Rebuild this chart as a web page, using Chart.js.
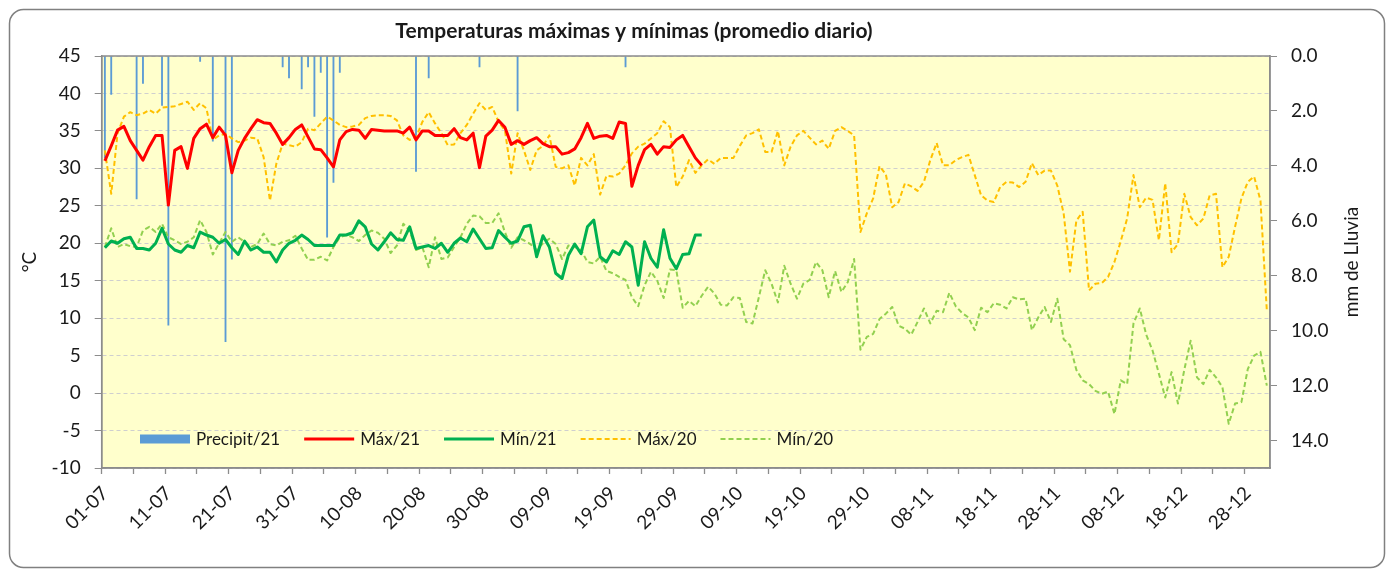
<!DOCTYPE html>
<html>
<head>
<meta charset="utf-8">
<title>Temperaturas máximas y mínimas</title>
<script src="https://cdn.jsdelivr.net/npm/chart.js@4.4.0/dist/chart.umd.min.js"></script>
<style>
  html, body { margin: 0; padding: 0; background: #fff; }
  #wrap { width: 1389px; height: 571px; position: relative; }
</style>
</head>
<body>
<div id="wrap"><canvas id="grafico"></canvas></div>
<script>
// dias del 01-07 al 31-12
var categories = [];
for (var i = 0; i < 184; i++) {
  var d = new Date(Date.UTC(2021, 6, 1 + i));
  categories.push(String(d.getUTCDate()).padStart(2, '0') + '-' + String(d.getUTCMonth() + 1).padStart(2, '0'));
}

// lluvia 2021 (mm), solo los dias con precipitacion
var precipDates = ['01-07', '02-07', '06-07', '07-07', '10-07', '11-07', '16-07', '18-07', '20-07', '21-07',
                   '29-07', '30-07', '01-08', '02-08', '03-08', '04-08', '05-08', '06-08', '07-08',
                   '19-08', '21-08', '29-08', '04-09', '21-09'];
var precipMm = [3.7, 1.4, 5.2, 1.0, 1.8, 9.8, 0.2, 3.1, 10.4, 7.4,
                0.4, 0.8, 1.2, 0.4, 2.2, 0.6, 6.6, 4.6, 0.6,
                4.2, 0.8, 0.4, 2.0, 0.4];

var max21 = [31.0, 33.0, 35.1, 35.6, 33.7, 32.4, 31.1, 32.9, 34.4, 34.4,
             25.1, 32.4, 32.9, 30.0, 34.0, 35.3, 35.9, 34.1, 35.5, 34.4,
             29.4, 32.4, 34.0, 35.3, 36.5, 36.1, 36.0, 34.7, 33.2, 34.1,
             35.2, 35.8, 34.2, 32.6, 32.5, 31.4, 30.2, 33.8, 34.9, 35.2,
             35.1, 34.0, 35.2, 35.1, 35.0, 35.0, 35.0, 34.7, 35.5, 33.8,
             35.0, 35.0, 34.4, 34.4, 34.4, 35.3, 34.1, 33.8, 34.7, 30.1,
             34.3, 35.1, 36.4, 35.5, 33.2, 33.7, 33.2, 33.7, 34.1, 33.3,
             32.9, 32.9, 31.9, 32.1, 32.6, 34.1, 36.0, 34.0, 34.3, 34.4,
             34.0, 36.2, 36.0, 27.6, 30.4, 32.5, 33.2, 31.9, 32.9, 32.8,
             33.8, 34.4, 32.9, 31.4, 30.4];

var min21 = [19.4, 20.3, 20.0, 20.6, 20.8, 19.3, 19.3, 19.1, 20.0, 22.0,
             19.9, 19.1, 18.8, 19.7, 19.4, 21.5, 21.1, 20.8, 20.0, 20.5,
             19.4, 18.5, 20.3, 19.1, 19.5, 18.8, 18.8, 17.5, 19.1, 20.0,
             20.4, 21.1, 20.5, 19.7, 19.7, 19.7, 19.7, 21.1, 21.1, 21.4,
             23.0, 22.2, 19.9, 19.1, 20.2, 21.4, 20.5, 20.4, 22.2, 19.3,
             19.5, 19.7, 19.3, 20.0, 18.8, 20.0, 20.7, 20.2, 21.9, 20.6,
             19.3, 19.4, 21.7, 20.8, 20.0, 20.3, 22.2, 22.4, 18.2, 21.0,
             19.5, 16.0, 15.3, 18.4, 19.9, 18.6, 22.2, 23.1, 18.2, 17.5,
             19.0, 18.5, 20.2, 19.5, 14.4, 20.2, 18.0, 16.8, 21.8, 18.0,
             16.6, 18.5, 18.6, 21.1, 21.1];

var max20 = [32.4, 26.6, 34.7, 36.9, 37.5, 37.1, 37.3, 37.8, 37.3, 38.1,
             38.2, 38.3, 38.6, 38.9, 37.8, 38.7, 38.0, 33.8, 34.4, 34.6,
             34.0, 33.5, 33.7, 34.1, 34.0, 31.5, 25.7, 30.6, 33.3, 33.1,
             32.9, 33.5, 35.3, 35.1, 36.0, 36.9, 36.4, 35.8, 35.5, 35.6,
             35.8, 36.7, 37.0, 37.1, 37.1, 37.0, 36.4, 34.4, 33.8, 34.1,
             36.2, 37.5, 36.0, 34.7, 33.1, 33.2, 34.7, 35.8, 37.3, 38.7,
             37.8, 38.2, 36.2, 35.1, 29.3, 34.7, 32.4, 29.8, 32.4, 33.0,
             34.4, 30.2, 30.0, 30.4, 27.7, 31.4, 30.4, 31.9, 26.5, 29.0,
             28.9, 29.3, 30.4, 32.0, 32.9, 33.3, 34.0, 34.7, 36.3, 35.5,
             27.5, 28.9, 31.1, 29.4, 30.4, 31.2, 30.6, 31.4, 31.4, 31.4,
             33.0, 34.4, 34.7, 35.2, 32.2, 32.2, 35.0, 30.4, 32.9, 34.4,
             35.0, 34.1, 33.2, 33.7, 32.6, 35.0, 35.5, 35.0, 34.4, 21.5,
             24.0, 26.0, 30.3, 29.2, 24.8, 25.5, 28.0, 27.6, 27.0, 28.2,
             31.1, 33.4, 30.4, 30.4, 31.1, 31.5, 31.8, 29.1, 26.4, 25.7,
             25.5, 27.5, 28.2, 28.1, 27.5, 28.2, 30.7, 29.1, 29.7, 29.7,
             27.7, 24.0, 16.2, 23.0, 24.2, 13.7, 14.6, 14.7, 15.5, 17.5,
             20.3, 23.3, 29.1, 24.8, 26.1, 25.8, 20.4, 28.0, 18.8, 19.9,
             26.6, 23.5, 22.4, 23.3, 26.4, 26.6, 16.8, 18.2, 22.2, 26.0,
             28.2, 28.9, 25.7, 11.0];

var min20 = [19.5, 22.0, 19.5, 19.9, 19.6, 19.5, 21.7, 22.2, 21.5, 22.6,
             20.8, 20.4, 19.9, 20.2, 20.8, 23.1, 21.5, 18.5, 20.0, 21.5,
             20.2, 20.8, 20.2, 19.5, 19.9, 21.3, 19.9, 19.7, 20.2, 20.4,
             21.0, 19.3, 17.8, 17.8, 18.2, 17.7, 19.5, 20.8, 21.1, 20.8,
             20.3, 21.1, 21.7, 21.4, 20.6, 18.7, 19.7, 22.6, 21.7, 19.1,
             19.5, 16.8, 20.8, 17.9, 18.1, 19.5, 20.8, 22.6, 23.7, 23.6,
             22.7, 22.7, 24.0, 21.5, 19.4, 20.8, 20.4, 19.9, 19.1, 20.0,
             20.6, 19.9, 17.9, 19.7, 19.5, 19.1, 17.5, 17.3, 18.2, 16.3,
             16.0, 15.5, 15.1, 12.8, 11.6, 14.4, 16.2, 15.0, 12.7, 16.5,
             16.4, 11.4, 12.3, 11.6, 13.0, 14.2, 13.3, 11.8, 11.7, 12.8,
             12.7, 9.5, 9.3, 12.8, 16.4, 14.6, 12.1, 17.0, 14.6, 12.6,
             14.6, 15.1, 17.5, 16.4, 12.8, 16.3, 13.5, 14.8, 17.9, 5.8,
             7.5, 7.9, 9.9, 10.6, 11.5, 9.0, 8.6, 7.8, 9.5, 11.3,
             9.3, 11.0, 10.8, 13.4, 11.6, 10.7, 10.1, 8.4, 11.4, 10.8,
             12.0, 11.8, 11.3, 12.8, 12.5, 12.6, 8.4, 10.1, 11.5, 9.5,
             12.6, 7.2, 6.4, 3.1, 1.7, 1.2, 0.3, -0.1, 0.2, -2.8,
             1.7, 1.2, 9.3, 11.3, 7.8, 5.7, 2.6, -0.6, 2.8, -1.4,
             3.1, 7.0, 2.1, 1.2, 3.1, 2.1, 0.8, -4.1, -1.4, -1.2,
             3.2, 5.0, 5.5, 1.0];

var precip = categories.map(function (c) {
  var k = precipDates.indexOf(c);
  return k < 0 ? null : precipMm[k];
});

var textColor = '#1a1a1a';
var axisGray = '#8c8c8c';

function roundRect(ctx, x, y, w, h, r) {
  ctx.beginPath();
  ctx.moveTo(x + r, y);
  ctx.arcTo(x + w, y, x + w, y + h, r);
  ctx.arcTo(x + w, y + h, x, y + h, r);
  ctx.arcTo(x, y + h, x, y, r);
  ctx.arcTo(x, y, x + w, y, r);
  ctx.closePath();
}

var marco = {
  id: 'marco',
  beforeDraw: function (chart) {
    var ctx = chart.ctx, a = chart.chartArea;
    ctx.save();
    ctx.fillStyle = '#fff';
    ctx.fillRect(0, 0, chart.width, chart.height);
    roundRect(ctx, 9.5, 9.5, 1375, 558, 14);
    ctx.strokeStyle = '#808080';
    ctx.lineWidth = 1.5;
    ctx.stroke();
    ctx.fillStyle = '#FFFFCC';
    ctx.fillRect(a.left, a.top, a.right - a.left, a.bottom - a.top);
    ctx.restore();
  },
  afterDatasetsDraw: function (chart) {
    var ctx = chart.ctx, a = chart.chartArea;
    ctx.save();
    ctx.strokeStyle = axisGray;
    ctx.lineWidth = 1.5;
    ctx.strokeRect(a.left, a.top, a.right - a.left, a.bottom - a.top);

    // titulo
    ctx.fillStyle = textColor;
    ctx.font = 'bold 21px Lato';
    ctx.textAlign = 'center';
    ctx.textBaseline = 'middle';
    ctx.fillText('Temperaturas máximas y mínimas (promedio diario)', 634, 31);

    // titulos de ejes
    ctx.font = '19px Lato';
    var mid = (a.top + a.bottom) / 2;
    ctx.save();
    ctx.translate(30, mid);
    ctx.rotate(-Math.PI / 2);
    ctx.fillText('°C', 0, 0);
    ctx.restore();
    ctx.save();
    ctx.translate(1352, mid);
    ctx.rotate(-Math.PI / 2);
    ctx.fillText('mm de Lluvia', 0, 0);
    ctx.restore();

    // leyenda
    ctx.font = '17px Lato';
    ctx.textAlign = 'left';
    var x = 140, y = 439;
    var orden = [4, 0, 1, 2, 3];
    orden.forEach(function (k) {
      var ds = chart.data.datasets[k];
      if (ds.type === 'bar') {
        ctx.fillStyle = ds.backgroundColor;
        ctx.fillRect(x, y - 4.5, 50, 9);
      } else {
        ctx.strokeStyle = ds.borderColor;
        ctx.lineWidth = ds.borderWidth;
        ctx.setLineDash(ds.borderDash || []);
        ctx.beginPath();
        ctx.moveTo(x, y);
        ctx.lineTo(x + 50, y);
        ctx.stroke();
        ctx.setLineDash([]);
      }
      ctx.fillStyle = textColor;
      ctx.fillText(ds.label, x + 56, y + 1);
      x += 56 + ctx.measureText(ds.label).width + 24;
    });
    ctx.restore();
  }
};

var ctx = document.getElementById('grafico').getContext('2d');
var chart = new Chart(ctx, {
  type: 'line',
  data: {
    labels: categories,
    datasets: [
      { label: 'Máx/21', data: max21, borderColor: '#FF0000', borderWidth: 3, order: 0 },
      { label: 'Mín/21', data: min21, borderColor: '#00B050', borderWidth: 3, order: 0 },
      { label: 'Máx/20', data: max20, borderColor: '#FFC000', borderWidth: 2, borderDash: [5, 3], order: 1 },
      { label: 'Mín/20', data: min20, borderColor: '#92D050', borderWidth: 2, borderDash: [5, 3], order: 1 },
      { type: 'bar', label: 'Precipit/21', data: precip, yAxisID: 'y2', backgroundColor: '#5B9BD5',
        barThickness: 1.2, order: 2 }
    ]
  },
  options: {
    responsive: true,
    maintainAspectRatio: false,
    animation: false,
    layout: { padding: { left: 15, right: 10, top: 56, bottom: 13 } },
    elements: {
      point: { radius: 0 },
      line: { tension: 0, fill: false, borderJoinStyle: 'round' }
    },
    plugins: {
      legend: { display: false },
      title: { display: false },
      tooltip: { enabled: false }
    },
    scales: {
      x: {
        offset: true,
        grid: {
          drawOnChartArea: false,
          drawTicks: true,
          tickLength: 6,
          offset: true,
          tickWidth: 1.3,
          tickColor: function (c) { return c.index % 5 === 0 ? axisGray : 'rgba(0,0,0,0)'; }
        },
        border: { color: axisGray, width: 1.5 },
        ticks: {
          autoSkip: false,
          minRotation: 45,
          maxRotation: 45,
          padding: 8,
          color: textColor,
          font: { family: 'Lato', size: 19 },
          callback: function (v, i) { return i % 10 === 0 ? categories[i] : ''; }
        },
        afterFit: function (s) { s.height = 90; }
      },
      y: {
        position: 'left',
        min: -10,
        max: 45,
        ticks: { stepSize: 5, padding: 14, color: textColor, font: { family: 'Lato', size: 19 } },
        grid: { color: '#cfcfcf', tickColor: axisGray, tickLength: 7, tickBorderDash: [] },
        border: { color: axisGray, width: 1.5, dash: [4, 3] },
        afterFit: function (s) { s.width = 86.7; }
      },
      y2: {
        position: 'right',
        reverse: true,
        min: 0,
        max: 15,
        ticks: {
          stepSize: 2,
          includeBounds: false,
          padding: 14,
          color: textColor,
          font: { family: 'Lato', size: 19 },
          callback: function (v) { return v.toFixed(1); }
        },
        grid: { drawOnChartArea: false, tickColor: axisGray, tickLength: 7 },
        border: { color: axisGray, width: 1.5 },
        afterFit: function (s) { s.width = 109; }
      }
    }
  },
  plugins: [marco]
});
</script>
</body>
</html>
